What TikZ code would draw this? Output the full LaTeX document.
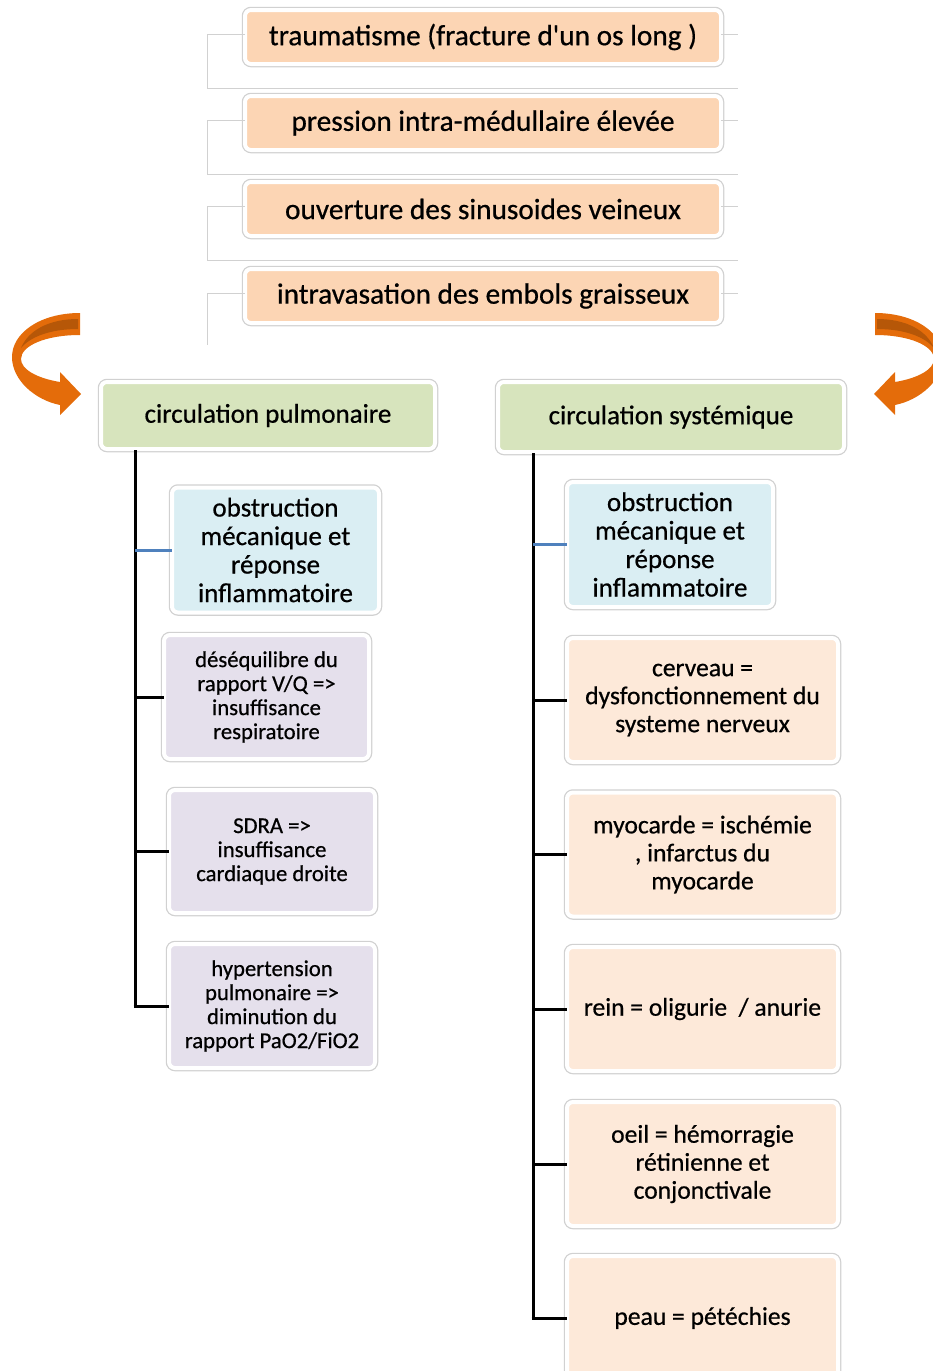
\documentclass[tikz,border=0pt]{standalone}
\usepackage{fontspec}
\setmainfont{Carlito}[Ligatures=TeXOff, FakeBold=0.6]
\usetikzlibrary{calc}
\definecolor{topc}{HTML}{FCD5B4}
\definecolor{greenc}{HTML}{D7E4BD}
\definecolor{bluec}{HTML}{DAEEF3}
\definecolor{lavc}{HTML}{E5E0EC}
\definecolor{peachc}{HTML}{FDE9D9}
\definecolor{arrowc}{HTML}{E46C0A}
\definecolor{arrowdark}{HTML}{B65708}
\definecolor{branchblue}{HTML}{4F81BD}
\newcommand{\curlarrowshape}{%
  \fill[arrowc] (80,313) .. controls (40,313) and (12,333) .. (12,357)
    .. controls (12,380) and (35,400) .. (60,405) -- (60,415) -- (81,394)
    -- (60,372) -- (60,382) .. controls (36,378) and (21,369) .. (21,359)
    .. controls (21,346) and (45,335) .. (80,335) -- cycle;
  \fill[arrowdark] (78,319) .. controls (48,319) and (28,331) .. (21,348)
    .. controls (30,337) and (50,329) .. (78,329) -- cycle;
}
\begin{document}
\begin{tikzpicture}[x=1pt,y=-1pt,
  frame/.style={rounded corners=6pt, draw=white, line width=4pt,
    preaction={draw=black!18, line width=6.5pt}, align=center,
    inner sep=0pt, outer sep=0pt, text=black},
  topbox/.style={frame, fill=topc, minimum width=476pt, minimum height=54pt,
    font=\fontsize{29.3}{30}\selectfont},
  headbox/.style={frame, fill=greenc, minimum height=67pt,
    font=\fontsize{27}{28}\selectfont},
  obsbox/.style={frame, fill=bluec, minimum width=206pt, minimum height=125pt,
    font=\fontsize{27}{28.5}\selectfont},
  lavbox/.style={frame, fill=lavc, minimum width=206pt, minimum height=124pt,
    font=\fontsize{22.7}{24}\selectfont},
  peachbox/.style={frame, fill=peachc, minimum width=271pt, minimum height=124pt,
    font=\fontsize{25.6}{28}\selectfont},
  bracket/.style={draw=black!18, line width=1pt},
  tree/.style={draw=black, line width=3pt},
  bluebranch/.style={draw=branchblue, line width=3pt}
]
\useasboundingbox (0,0) rectangle (933,1371);
\clip (0,0) rectangle (933,1371);

% top chain
\node[topbox] (t1) at (483,37) {traumatisme (fracture d'un os long )};
\node[topbox] (t2) at (483,123) {pression intra-médullaire élevée};
\node[topbox] (t3) at (483,209) {ouverture des sinusoides veineux};
\node[topbox] (t4) at (483,296) {intravasation des embols graisseux};

\draw[bracket] ($(t1.west)+(0,-3)$) -- ++(-38,0) -- (207,88) -- (738,88);
\draw[bracket] ($(t1.east)+(0,-3)$) -- ++(17,0);
\draw[bracket] ($(t2.west)+(0,-3)$) -- ++(-38,0) -- (207,174) -- (738,174);
\draw[bracket] ($(t2.east)+(0,-3)$) -- ++(17,0);
\draw[bracket] ($(t3.west)+(0,-3)$) -- ++(-38,0) -- (207,260) -- (738,260);
\draw[bracket] ($(t3.east)+(0,-3)$) -- ++(17,0);
\draw[bracket] ($(t4.west)+(0,-3)$) -- ++(-38,0) -- (207,345);
\draw[bracket] ($(t4.east)+(0,-3)$) -- ++(17,0);

% curled arrows
\curlarrowshape
\begin{scope}[shift={(955,0)}, xscale=-1]
\curlarrowshape
\end{scope}

% headers
\node[headbox, minimum width=334pt] (gl) at (268,415.5) {circulation pulmonaire};
\node[headbox, minimum width=346pt, minimum height=70pt] (gr) at (671,417) {circulation systémique};

% left column
\node[obsbox, minimum width=207pt] (lo) at (275.5,550) {obstruction\\mécanique et\\réponse\\inflammatoire};
\node[lavbox, minimum width=205pt] (ld) at (266.5,697) {déséquilibre du\\rapport V/Q =>\\insuffisance\\respiratoire};
\node[lavbox, minimum height=123pt] (ls) at (272,851.5) {SDRA =>\\insuffisance\\cardiaque droite};
\node[lavbox] (lh) at (272,1006) {hypertension\\pulmonaire =>\\diminution du\\rapport PaO2/FiO2};

% right column
\node[obsbox] (ro) at (670,544.5) {obstruction\\mécanique et\\réponse\\inflammatoire};
\node[peachbox] (rc) at (702.5,700) {cerveau =\\dysfonctionnement du\\systeme nerveux};
\node[peachbox] (rm) at (702.5,854.5) {myocarde = ischémie\\, infarctus du\\myocarde};
\node[peachbox] (rr) at (702.5,1009) {rein = oligurie\ \ / anurie};
\node[peachbox] (re) at (702.5,1164) {oeil = hémorragie\\rétinienne et\\conjonctivale};
\node[peachbox] (rp) at (702.5,1318) {peau = pétéchies};

% trees
\coordinate (lx) at (135,0);
\coordinate (rx) at (533,0);
\draw[tree] (gl.south -| lx) ++(0,1) -- (lh.west -| lx);
\draw[bluebranch] (lo.west -| lx) -- (lo.west);
\draw[tree] (ld.west -| lx) -- (ld.west);
\draw[tree] (ls.west -| lx) -- (ls.west);
\draw[tree] ([xshift=-1.5pt]lh.west -| lx) -- (lh.west);

\draw[tree] (gr.south -| rx) ++(0,1) -- (rp.west -| rx);
\draw[bluebranch] (ro.west -| rx) -- (ro.west);
\draw[tree] (rc.west -| rx) -- (rc.west);
\draw[tree] (rm.west -| rx) -- (rm.west);
\draw[tree] (rr.west -| rx) -- (rr.west);
\draw[tree] (re.west -| rx) -- (re.west);
\draw[tree] ([xshift=-1.5pt]rp.west -| rx) -- (rp.west);
\end{tikzpicture}
\end{document}
